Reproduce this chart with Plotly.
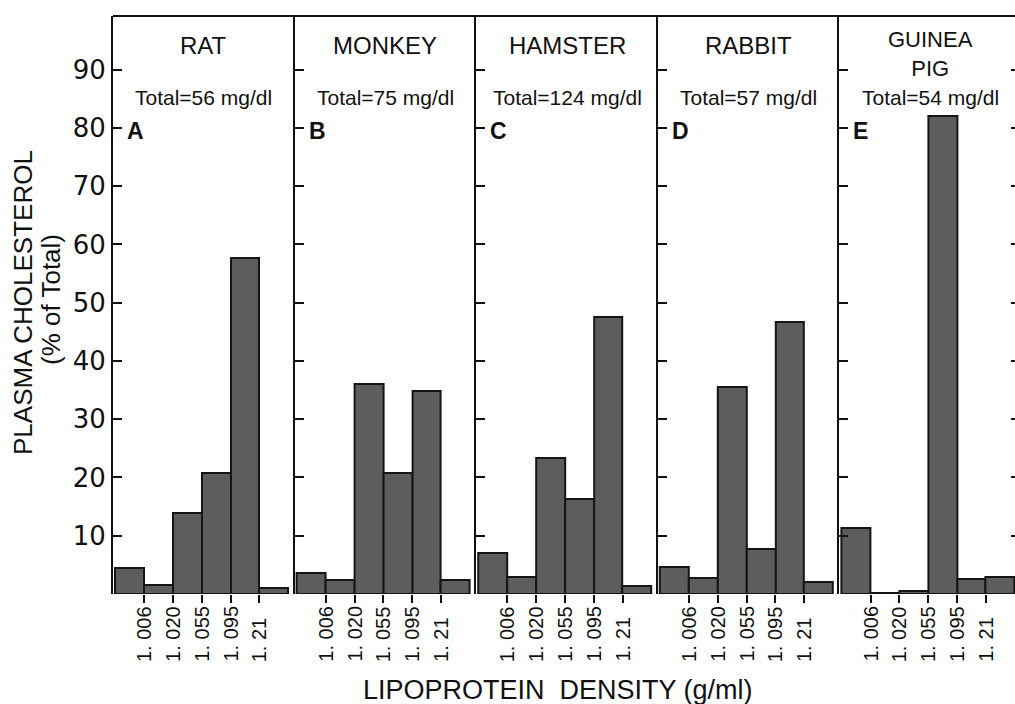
import plotly.graph_objects as go

# ---- data -------------------------------------------------------------
panel_titles = ["RAT", "MONKEY", "HAMSTER", "RABBIT", "GUINEA<br>PIG"]
panel_letters = ["A", "B", "C", "D", "E"]
total_mg_dl = [56, 75, 124, 57, 54]

# density cut points separating the six lipoprotein fractions
density_cuts = ["1. 006", "1. 020", "1. 055", "1. 095", "1. 21"]

# % of total plasma cholesterol in each density fraction
rat = [4.5, 1.5, 13.9, 20.8, 57.7, 1.0]
monkey = [3.6, 2.4, 36.1, 20.8, 34.9, 2.4]
hamster = [7.0, 2.9, 23.4, 16.3, 47.6, 1.4]
rabbit = [4.6, 2.7, 35.6, 7.7, 46.7, 2.0]
guinea_pig = [11.3, 0.2, 0.6, 82.0, 2.6, 2.9]
series = [rat, monkey, hamster, rabbit, guinea_pig]

y_ticks = [10, 20, 30, 40, 50, 60, 70, 80, 90]

# ---- layout geometry (pixels) ----------------------------------------
W, H = 1015, 704
ML, MR, MT, MB = 113, 0, 16, 110
PW, PH = W - ML - MR, H - MT - MB
PANEL_PX = 181.6
UNIT_PX = 28.8
Y_MAX = 99.2

TXT = "Liberation Sans, Arial, sans-serif"
NUM = "DejaVu Sans, sans-serif"
INK = "#111111"


def px_x(px):
    return (px - ML) / PW


def px_y(py):
    return (H - MB - py) / PH


fig = go.Figure()
annotations = []

for k, vals in enumerate(series):
    idx = "" if k == 0 else str(k + 1)
    left = ML + k * PANEL_PX
    right = min(left + PANEL_PX, W - MR)
    x0 = -0.08
    x1 = x0 + (right - left) / UNIT_PX

    centers = [i + 0.5 for i in range(len(vals))]
    fig.add_trace(go.Bar(
        x=centers, y=vals, width=1.0,
        marker=dict(color="#5d5d5d", line=dict(color="#151515", width=2)),
        xaxis="x" + idx, yaxis="y" + idx, showlegend=False,
        hoverinfo="y",
    ))

    fig.layout["xaxis" + idx] = dict(
        domain=[px_x(left), px_x(right)], range=[x0, x1], anchor="y" + idx,
        showline=False, showgrid=False, zeroline=False,
        tickmode="array", tickvals=list(range(1, len(density_cuts) + 1)),
        ticks="outside", ticklen=8, tickwidth=2, tickcolor=INK,
        showticklabels=False, fixedrange=True,
    )
    fig.layout["yaxis" + idx] = dict(
        domain=[0, 1], range=[0, Y_MAX], anchor="x" + idx,
        showline=True, linecolor=INK, linewidth=2,
        showgrid=False, zeroline=False,
        tickmode="array", tickvals=y_ticks,
        ticks="inside", ticklen=9, tickwidth=2, tickcolor=INK,
        showticklabels=(k == 0),
        tickfont=dict(family=NUM, size=26, color=INK),
        fixedrange=True,
    )

    # density labels, bottom-aligned, rotated
    for j, lab in enumerate(density_cuts):
        annotations.append(dict(
            text=lab, xref="x" + idx, x=j + 1, yref="paper", y=px_y(664),
            xanchor="center", yanchor="bottom", textangle=-90, showarrow=False,
            font=dict(family=TXT, size=20, color=INK),
        ))

    cx = px_x((left + left + PANEL_PX) / 2)
    two_line = "<br>" in panel_titles[k]
    annotations.append(dict(
        text=panel_titles[k], xref="paper", x=cx, yref="paper",
        y=px_y(25 if two_line else 30),
        xanchor="center", yanchor="top", showarrow=False,
        font=dict(family=TXT, size=22 if two_line else 24, color=INK),
    ))
    annotations.append(dict(
        text=f"Total={total_mg_dl[k]} mg/dl", xref="paper", x=cx,
        yref="paper", y=px_y(97), xanchor="center", yanchor="middle",
        showarrow=False, font=dict(family=TXT, size=21, color=INK),
    ))
    annotations.append(dict(
        text=f"<b>{panel_letters[k]}</b>", xref="paper", x=px_x(left + 12),
        yref="paper", y=px_y(131), xanchor="left", yanchor="middle",
        showarrow=False, font=dict(family=TXT, size=23, color=INK),
    ))

# right-hand frame ticks of the last panel
fig.add_trace(go.Scatter(x=[], y=[], xaxis="x5", yaxis="y6", showlegend=False))
fig.layout["yaxis6"] = dict(
    overlaying="y5", anchor="x5", side="right", range=[0, Y_MAX],
    showline=False, showgrid=False, zeroline=False,
    tickmode="array", tickvals=y_ticks, ticks="inside", ticklen=4,
    tickwidth=2, tickcolor=INK, showticklabels=False, fixedrange=True,
)

# axis titles
annotations += [
    dict(text="PLASMA CHOLESTEROL", xref="paper", x=px_x(23), yref="paper",
         y=px_y(303), textangle=-90, showarrow=False, xanchor="center",
         yanchor="middle", font=dict(family=TXT, size=26, color=INK)),
    dict(text="(% of Total)", xref="paper", x=px_x(51), yref="paper",
         y=px_y(299), textangle=-90, showarrow=False, xanchor="center",
         yanchor="middle", font=dict(family=TXT, size=26, color=INK)),
    dict(text="LIPOPROTEIN  DENSITY (g/ml)", xref="paper", x=px_x(558),
         yref="paper", y=px_y(690), showarrow=False, xanchor="center",
         yanchor="middle", font=dict(family=TXT, size=27, color=INK)),
]

fig.update_layout(
    width=W, height=H,
    margin=dict(l=ML, r=MR, t=MT, b=MB, pad=0),
    paper_bgcolor="white", plot_bgcolor="white",
    bargap=0, showlegend=False,
    annotations=annotations,
    shapes=[dict(type="line", xref="paper", yref="paper", x0=0, x1=1,
                 y0=1, y1=1, line=dict(color=INK, width=2))],
)

fig.write_html("out.html", config={"displayModeBar": False})
